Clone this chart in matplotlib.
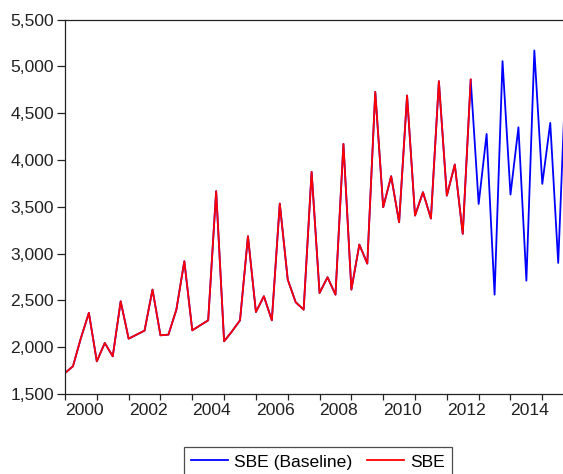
import numpy as np
import matplotlib
matplotlib.use('Agg')
import matplotlib.pyplot as plt
from matplotlib.ticker import FixedLocator, StrMethodFormatter
from matplotlib.transforms import ScaledTranslation

plt.rcParams['font.family'] = ['Liberation Sans', 'DejaVu Sans']

# quarterly data, 2000Q1 onwards
start_year = 2000
sbe = [1724, 1796, 2098, 2366, 1849, 2045, 1902, 2490,
       2091, 2134, 2177, 2615, 2127, 2134, 2401, 2918,
       2180, 2234, 2287, 3666, 2063, 2170, 2287, 3185,
       2376, 2544, 2287, 3534, 2722, 2480, 2401, 3872,
       2579, 2747, 2561, 4171, 2615, 3096, 2893, 4727,
       3495, 3826, 3334, 4688, 3406, 3655, 3374, 4841,
       3619, 3951, 3210, 4859]
baseline_extra = [3530, 4278, 2561, 5055, 3630, 4349, 2711, 5169,
                  3744, 4396, 2900, 5030]
sbe_baseline = sbe + baseline_extra

t_base = start_year + np.arange(len(sbe_baseline)) / 4.0
t_sbe = start_year + np.arange(len(sbe)) / 4.0

W, H, DPI = 563, 474, 100
FS = 12.6
fig = plt.figure(figsize=(W / DPI, H / DPI), dpi=DPI)
px_year = 31.82
ax = fig.add_axes([65 / W, 1 - 394 / H, 16 * px_year / W, (394 - 19.5) / H])

ax.plot(t_base, sbe_baseline, color='#0000ff', lw=1.3, label='SBE (Baseline)')
ax.plot(t_sbe, sbe, color='#ff0000', lw=1.3, label='SBE')

ax.set_xlim(2000, 2016)
ax.set_ylim(1500, 5500)
ax.yaxis.set_major_locator(FixedLocator(np.arange(1500, 5501, 500)))
ax.yaxis.set_major_formatter(StrMethodFormatter('{x:,.0f}'))

years = np.arange(2000, 2016)
ax.set_xticks(years)
ax.set_xticklabels([str(y) if y % 2 == 0 else '' for y in years])
shift = ScaledTranslation(-7 / DPI, 0, fig.dpi_scale_trans)
for lab in ax.get_xticklabels():
    lab.set_horizontalalignment('left')
    lab.set_transform(lab.get_transform() + shift)

ax.tick_params(axis='y', direction='out', length=5.5, width=0.9, pad=2.5,
               labelsize=FS, colors='#222222')
ax.tick_params(axis='x', direction='out', length=4.3, width=0.9, pad=2.0,
               labelsize=FS, colors='#222222')
for s in ['left', 'bottom', 'top']:
    ax.spines[s].set_linewidth(0.9)
    ax.spines[s].set_color('#222222')
ax.spines['right'].set_visible(False)

leg = fig.legend(loc='upper left', bbox_to_anchor=(184 / W, 1 - 447.3 / H),
                 ncol=2, fontsize=FS, frameon=True, fancybox=False,
                 borderaxespad=0, handlelength=2.1, handletextpad=0.35,
                 columnspacing=0.85, borderpad=0.4)
leg.get_frame().set_edgecolor('#222222')
leg.get_frame().set_linewidth(0.9)

fig.savefig('out.png', dpi=DPI)
